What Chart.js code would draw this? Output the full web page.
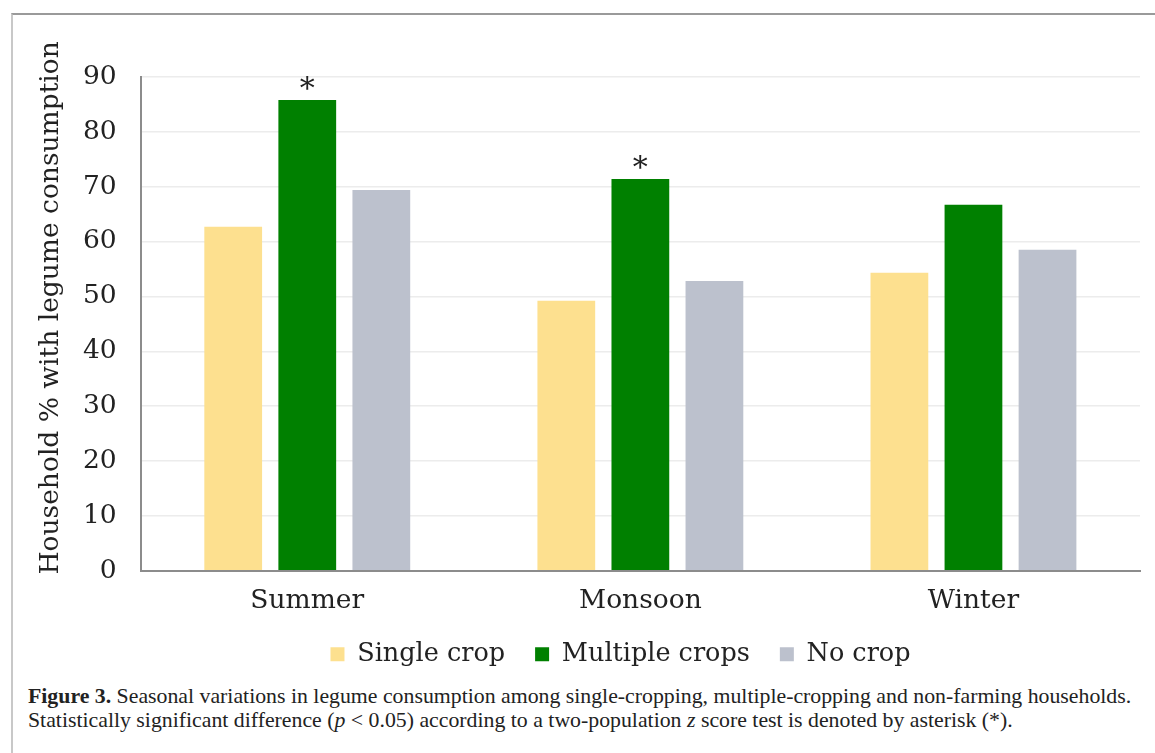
<!DOCTYPE html>
<html>
<head>
<meta charset="utf-8">
<script src="https://cdn.jsdelivr.net/npm/chart.js@4.4.1/dist/chart.umd.min.js"></script>
<style>
  body { margin: 0; background: #fff; }
  #frame { position: absolute; left: 11px; top: 13px; width: 1150px; height: 760px;
           border-top: 2px solid #9a9a9a; border-left: 2px solid #c8c8c8; }
  #wrap { position: absolute; left: 0; top: 0; width: 1155px; height: 680px; }
  #caption { position: absolute; left: 28px; top: 684px; width: 1125px;
             font-family: "Liberation Serif", serif; font-size: 21.8px; line-height: 24px; color: #222;
             white-space: nowrap; }
  #caption b { font-weight: bold; }
</style>
</head>
<body>
<div id="frame"></div>
<div id="wrap"><canvas id="legumeChart"></canvas></div>
<div id="caption"><b>Figure 3.</b> Seasonal variations in legume consumption among single-cropping, multiple-cropping and non-farming households.<br>Statistically significant difference (<i>p</i> &lt; 0.05) according to a two-population <i>z</i> score test is denoted by asterisk (*).</div>
<script>
const seasons = ['Summer', 'Monsoon', 'Winter'];
const singleCrop = [62.7, 49.2, 54.3];
const multipleCrops = [85.8, 71.4, 66.7];
const noCrop = [69.4, 52.8, 58.5];
const significant = [true, true, false];
const yTicks = [0, 10, 20, 30, 40, 50, 60, 70, 80, 90];
const yTitle = 'Household % with legume consumption';

const serif = "'DejaVu Serif', serif";
const fontSize = 26.5;

// asterisks over the multiple-crops bars that differ significantly
const asteriskPlugin = {
    id: 'asterisks',
    afterDatasetsDraw: function (chart) {
        const meta = chart.getDatasetMeta(1);
        const ctx = chart.ctx;
        ctx.save();
        ctx.font = '30px ' + serif;
        ctx.fillStyle = '#222';
        ctx.textAlign = 'center';
        ctx.textBaseline = 'bottom';
        meta.data.forEach(function (bar, i) {
            if (significant[i]) {
                ctx.fillText('*', bar.x, bar.y + 5);
            }
        });
        ctx.restore();
    }
};

// y axis title, drawn a bit above the middle like the original
const yTitlePlugin = {
    id: 'yTitle',
    afterDraw: function (chart) {
        const area = chart.chartArea;
        const ctx = chart.ctx;
        ctx.save();
        ctx.translate(51, (area.top + area.bottom) / 2 - 16);
        ctx.rotate(-Math.PI / 2);
        ctx.font = fontSize + 'px ' + serif;
        ctx.fillStyle = '#222';
        ctx.textAlign = 'center';
        ctx.textBaseline = 'middle';
        ctx.fillText(yTitle, 0, 0);
        ctx.restore();
    }
};

// legend sits closer to the axis (and a little right) compared to chart.js defaults
const legendShift = 21;
const legendOffsetX = 21;
const legendGap = {
    id: 'legendGap',
    beforeInit: function (chart) {
        const legend = chart.legend;
        const fit = legend.fit;
        const drawItems = legend._draw;
        legend.fit = function () {
            fit.call(legend);
            legend.height -= legendShift;
        };
        legend._draw = function () {
            chart.ctx.save();
            chart.ctx.translate(legendOffsetX, -legendShift);
            drawItems.call(legend);
            chart.ctx.restore();
        };
    }
};

var ctx = document.getElementById('legumeChart').getContext('2d');
var myChart = new Chart(ctx, {
    type: 'bar',
    data: {
        labels: seasons,
        datasets: [
            { label: 'Single crop', data: singleCrop, backgroundColor: '#fde08f' },
            { label: 'Multiple crops', data: multipleCrops, backgroundColor: '#008000' },
            { label: 'No crop', data: noCrop, backgroundColor: '#bcc1cd' }
        ]
    },
    options: {
        responsive: true,
        maintainAspectRatio: false,
        animation: false,
        layout: { padding: { left: 59, right: 15, top: 77, bottom: 3 } },
        datasets: { bar: { categoryPercentage: 0.667, barPercentage: 0.78 } },
        plugins: {
            legend: {
                position: 'bottom',
                labels: {
                    font: { family: serif, size: 25.5 },
                    color: '#222',
                    boxWidth: 14,
                    boxHeight: 14,
                    padding: 30
                }
            },
            tooltip: { enabled: false }
        },
        scales: {
            x: {
                grid: { display: false, drawTicks: false },
                border: { color: '#8c8c8c', width: 2 },
                ticks: { font: { family: serif, size: fontSize }, color: '#222', padding: 15 }
            },
            y: {
                min: 0,
                max: 90,
                afterBuildTicks: function (axis) {
                    axis.ticks = yTicks.map(function (v) { return { value: v }; });
                },
                grid: { color: '#ececec', lineWidth: 1.5, drawTicks: false },
                border: { color: '#8c8c8c', width: 2 },
                ticks: { font: { family: serif, size: fontSize }, color: '#222', padding: 24 }
            }
        }
    },
    plugins: [asteriskPlugin, yTitlePlugin, legendGap]
});
</script>
</body>
</html>
